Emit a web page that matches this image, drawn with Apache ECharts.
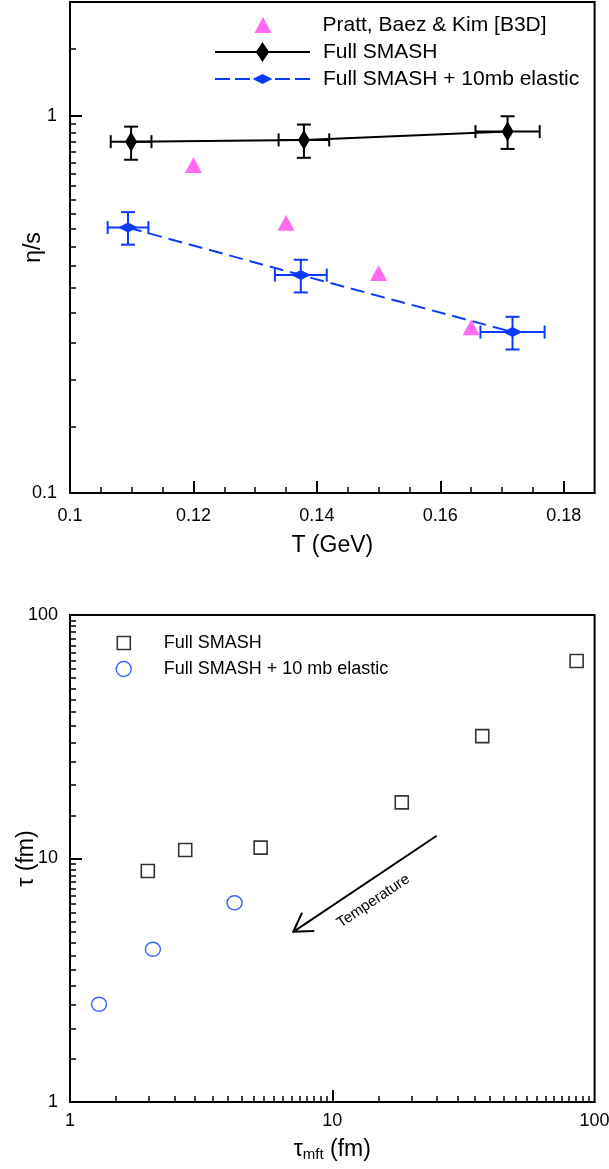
<!DOCTYPE html>
<html><head><meta charset="utf-8">
<script src="https://cdn.jsdelivr.net/npm/echarts@6/dist/echarts.min.js"></script>
<style>html,body{margin:0;padding:0;background:#fff}#c{width:609px;height:1169px}</style>
</head><body><div id="c"></div>
<script>
const FONT = '"Liberation Sans", Arial, Helvetica, sans-serif';
const BLUE = '#0b3bff';
const PINK = '#ff47ee';

// ---------- top panel data ----------
const prattName = 'Pratt, Baez & Kim [B3D]';
const prattT = [0.120, 0.135, 0.150, 0.165];
const prattEta = [0.74, 0.52, 0.383, 0.275];

const fullName = 'Full SMASH';
const fullT = [0.1099, 0.1379, 0.1709];
const fullEta = [0.853, 0.862, 0.907];
const fullEtaLo = [0.764, 0.773, 0.816];
const fullEtaHi = [0.935, 0.947, 0.996];
const fullTErr = [0.0033, 0.0041, 0.0052];

const elName = 'Full SMASH + 10mb elastic';
const elT = [0.1094, 0.1374, 0.1717];
const elEta = [0.505, 0.378, 0.267];
const elEtaLo = [0.455, 0.340, 0.240];
const elEtaHi = [0.555, 0.415, 0.293];
const elTErr = [0.0033, 0.0042, 0.0052];

const topXLabels = [0.1, 0.12, 0.14, 0.16, 0.18];
const topXMajor = [0.12, 0.14, 0.16, 0.18];
const topXMinor = [0.105, 0.11, 0.115, 0.125, 0.13, 0.135, 0.145, 0.15, 0.155, 0.165, 0.17, 0.175];
const topYLabels = [0.1, 1];
const topYMajor = [1];
const topYMinor = [0.15, 0.2, 0.25, 0.3, 0.35, 0.4, 0.45, 0.5, 0.55, 0.6, 0.65, 0.7, 0.75, 0.8, 0.85, 0.9, 0.95, 1.5];

// ---------- bottom panel data ----------
const botNames = ['Full SMASH', 'Full SMASH + 10 mb elastic'];
const tauMftFull = [1.98, 2.75, 5.33, 18.4, 37.3, 85.4];
const tauFull = [8.89, 10.84, 11.08, 17.0, 31.8, 64.7];
const tauMftEl = [1.29, 2.07, 4.24];
const tauEl = [2.52, 4.24, 6.58];

const botLabels = [1, 10, 100];
const botMajor = [10];
const botMinor = [1.5, 2, 2.5, 3, 3.5, 4, 4.5, 5, 5.5, 6, 6.5, 7, 7.5, 8, 8.5, 9, 9.5,
                  15, 20, 25, 30, 35, 40, 45, 50, 55, 60, 65, 70, 75, 80, 85, 90, 95];

const arrowFrom = [25, 12.4];
const arrowTo = [7.1, 5.0];
const arrowText = 'Temperature';

// ---------- helpers ----------
function errorBars(xIdx, yIdx, T, eta, lo, hi, dT, color) {
  return {
    type: 'custom', xAxisIndex: xIdx, yAxisIndex: yIdx, z: 3, silent: true,
    data: T.map((t, i) => [t, eta[i], lo[i], hi[i], t - dT[i], t + dT[i]]),
    encode: { x: [0, 4, 5], y: [1, 2, 3] },
    renderItem: function (params, api) {
      const lo = api.coord([api.value(0), api.value(2)]);
      const hi = api.coord([api.value(0), api.value(3)]);
      const l = api.coord([api.value(4), api.value(1)]);
      const r = api.coord([api.value(5), api.value(1)]);
      const cw = 7, ch = 6.5;
      const st = { stroke: color, lineWidth: 2, fill: null };
      const ln = (x1, y1, x2, y2) => ({ type: 'line', shape: { x1, y1, x2, y2 }, style: st });
      return { type: 'group', children: [
        ln(lo[0], lo[1], hi[0], hi[1]),
        ln(lo[0] - cw, lo[1], lo[0] + cw, lo[1]),
        ln(hi[0] - cw, hi[1], hi[0] + cw, hi[1]),
        ln(l[0], l[1], r[0], r[1]),
        ln(l[0], l[1] - ch, l[0], l[1] + ch),
        ln(r[0], r[1] - ch, r[0], r[1] + ch)
      ]};
    }
  };
}

const labelStyle = { fontSize: 18, color: '#000', fontFamily: FONT };
const axisLineStyle = { color: '#000', width: 2 };

function mainAxis(grid, type, min, max, labels, major, extra) {
  return Object.assign({
    gridIndex: grid, type: type, min: min, max: max,
    axisLine: { show: true, onZero: false, lineStyle: axisLineStyle },
    axisTick: { show: true, inside: true, length: 12, customValues: major, lineStyle: { color: '#000', width: 2 } },
    axisLabel: Object.assign({ customValues: labels }, labelStyle),
    splitLine: { show: false }, minorTick: { show: false },
    nameMoveOverlap: false
  }, type === 'log' ? { logBase: 10 } : {}, extra);
}
function minorAxis(grid, type, min, max, ticks, extra) {
  return Object.assign({
    gridIndex: grid, type: type, min: min, max: max,
    axisLine: { show: false },
    axisTick: { show: true, inside: true, length: 6, customValues: ticks, lineStyle: { color: '#000', width: 1.5 } },
    axisLabel: { show: false },
    splitLine: { show: false }
  }, type === 'log' ? { logBase: 10 } : {}, extra);
}

const nameStyle = { fontSize: 23, color: '#000', fontFamily: FONT };

const option = {
  animation: false,
  backgroundColor: '#fff',
  textStyle: { fontFamily: FONT },
  grid: [
    { left: 70, top: 2, width: 524.6, height: 491, show: true, borderColor: '#000', borderWidth: 2, containLabel: false, outerBoundsMode: 'none' },
    { left: 70, top: 615, width: 524.6, height: 487, show: true, borderColor: '#000', borderWidth: 2, containLabel: false, outerBoundsMode: 'none' }
  ],
  xAxis: [
    mainAxis(0, 'value', 0.1, 0.185, topXLabels, topXMajor, {
      position: 'bottom',
      axisLabel: Object.assign({ customValues: topXLabels, margin: 14, formatter: v => String(+(+v).toFixed(3)) }, labelStyle),
      name: 'T (GeV)', nameLocation: 'middle', nameGap: 41, nameTextStyle: nameStyle
    }),
    minorAxis(0, 'value', 0.1, 0.185, topXMinor, { position: 'bottom' }),
    mainAxis(1, 'log', 1, 100, botLabels, botMajor, {
      position: 'bottom',
      axisLabel: Object.assign({ customValues: botLabels, margin: 10 }, labelStyle),
      name: 'τ{sub|mft} (fm)', nameLocation: 'middle', nameGap: 35,
      nameTextStyle: Object.assign({}, nameStyle, { rich: { sub: { fontSize: 15, fontFamily: FONT, color: '#000', padding: [10, 0, 0, 0] } } })
    }),
    minorAxis(1, 'log', 1, 100, botMinor, { position: 'bottom' })
  ],
  yAxis: [
    mainAxis(0, 'log', 0.1, 2, topYLabels, topYMajor, {
      position: 'left',
      axisLabel: Object.assign({ customValues: topYLabels, margin: 13 }, labelStyle),
      name: 'η/s', nameLocation: 'middle', nameRotate: 90, nameGap: 25, nameTextStyle: nameStyle
    }),
    minorAxis(0, 'log', 0.1, 2, topYMinor, { position: 'left' }),
    mainAxis(1, 'log', 1, 100, botLabels, botMajor, {
      position: 'left',
      axisLabel: Object.assign({ customValues: botLabels, margin: 12 }, labelStyle),
      name: 'τ (fm)', nameLocation: 'middle', nameRotate: 90, nameGap: 32, nameTextStyle: nameStyle
    }),
    minorAxis(1, 'log', 1, 100, botMinor, { position: 'left' })
  ],
  legend: [
    { left: 254.5, top: 13, padding: 0, selectedMode: false, itemWidth: 17, itemHeight: 16,
      data: [{ name: prattName, icon: 'path://M8.5,0 L17,16 L0,16 Z' }],
      itemStyle: { color: PINK, borderWidth: 0 },
      textStyle: { fontSize: 21, lineHeight: 24, color: '#000', fontFamily: FONT, padding: [0, 0, 0, 46] } },
    { left: 215, top: 40, padding: 0, selectedMode: false, itemWidth: 95, itemHeight: 20,
      data: [{ name: fullName, icon: 'path://M0,9 L41.5,9 L47.5,0 L53.5,9 L95,9 L95,11 L53.5,11 L47.5,20 L41.5,11 L0,11 Z' }],
      itemStyle: { color: '#000', borderWidth: 0 },
      textStyle: { fontSize: 21, lineHeight: 24, color: '#000', fontFamily: FONT, padding: [0, 0, 0, 8] } },
    { left: 215, top: 67, padding: 0, selectedMode: false, itemWidth: 95, itemHeight: 10,
      data: [{ name: elName, icon: 'path://M0,4 L15,4 L15,6 L0,6 Z M20,4 L35,4 L35,6 L20,6 Z M37.5,5 L47.5,0 L57.5,5 L47.5,10 Z M60,4 L75,4 L75,6 L60,6 Z M80,4 L95,4 L95,6 L80,6 Z' }],
      itemStyle: { color: BLUE, borderWidth: 0 },
      textStyle: { fontSize: 21, lineHeight: 24, color: '#000', fontFamily: FONT, padding: [0, 0, 0, 8] } },
    { left: 116.5, top: 632, padding: 0, selectedMode: false, itemWidth: 13, itemHeight: 13,
      data: [{ name: 'tau:' + botNames[0], icon: 'rect' }],
      formatter: n => n.replace('tau:', ''),
      itemStyle: { color: 'rgba(0,0,0,0)', borderColor: '#000', borderWidth: 1.6 },
      textStyle: { fontSize: 18, lineHeight: 22, color: '#000', fontFamily: FONT, padding: [0, 0, 0, 28.5] } },
    { left: 115.5, top: 658, padding: 0, selectedMode: false, itemWidth: 15, itemHeight: 15,
      data: [{ name: 'tau:' + botNames[1], icon: 'circle' }],
      formatter: n => n.replace('tau:', ''),
      itemStyle: { color: 'rgba(0,0,0,0)', borderColor: BLUE, borderWidth: 1.4 },
      textStyle: { fontSize: 18, lineHeight: 22, color: '#000', fontFamily: FONT, padding: [0, 0, 0, 27.5] } }
  ],
  series: [
    errorBars(0, 0, fullT, fullEta, fullEtaLo, fullEtaHi, fullTErr, '#000'),
    errorBars(0, 0, elT, elEta, elEtaLo, elEtaHi, elTErr, BLUE),
    { name: fullName, type: 'line', xAxisIndex: 0, yAxisIndex: 0, z: 4,
      data: fullT.map((t, i) => [t, fullEta[i]]),
      symbol: 'diamond', symbolSize: [12, 20],
      lineStyle: { color: '#000', width: 2 }, itemStyle: { color: '#000', borderWidth: 0 } },
    { name: elName, type: 'line', xAxisIndex: 0, yAxisIndex: 0, z: 4,
      data: elT.map((t, i) => [t, elEta[i]]),
      symbol: 'diamond', symbolSize: [20, 10],
      lineStyle: { color: BLUE, width: 2, type: [14, 7] }, itemStyle: { color: BLUE, borderWidth: 0 } },
    { name: prattName, type: 'scatter', xAxisIndex: 0, yAxisIndex: 0, z: 5,
      data: prattT.map((t, i) => [t, prattEta[i]]),
      symbol: 'triangle', symbolSize: [17, 16], itemStyle: { color: PINK } },
    { name: 'tau:' + botNames[0], type: 'scatter', xAxisIndex: 2, yAxisIndex: 2,
      data: tauMftFull.map((x, i) => [x, tauFull[i]]),
      symbol: 'rect', symbolSize: 13,
      itemStyle: { color: 'rgba(0,0,0,0)', borderColor: '#000', borderWidth: 1.6 } },
    { name: 'tau:' + botNames[1], type: 'scatter', xAxisIndex: 2, yAxisIndex: 2,
      data: tauMftEl.map((x, i) => [x, tauEl[i]]),
      symbol: 'circle', symbolSize: [15, 14],
      itemStyle: { color: 'rgba(0,0,0,0)', borderColor: BLUE, borderWidth: 1.4 } },
    { type: 'custom', xAxisIndex: 2, yAxisIndex: 2, silent: true,
      data: [[arrowFrom[0], arrowFrom[1], arrowTo[0], arrowTo[1]]],
      encode: { x: [0, 2], y: [1, 3] },
      renderItem: function (params, api) {
        const p0 = api.coord([api.value(0), api.value(1)]);
        const p1 = api.coord([api.value(2), api.value(3)]);
        const dx = p1[0] - p0[0], dy = p1[1] - p0[1];
        const len = Math.hypot(dx, dy);
        const ux = dx / len, uy = dy / len;
        const back = Math.atan2(-uy, -ux);
        const wl = 21, wa = 0.55;
        const w1 = [p1[0] + wl * Math.cos(back + wa), p1[1] + wl * Math.sin(back + wa)];
        const w2 = [p1[0] + wl * Math.cos(back - wa), p1[1] + wl * Math.sin(back - wa)];
        const nx = -uy, ny = ux; // perpendicular
        const sgn = ny > 0 ? 1 : -1;
        const mx = (p0[0] + p1[0]) / 2 + sgn * 19 * nx + 2.6 * ux;
        const my = (p0[1] + p1[1]) / 2 + sgn * 19 * ny + 2.6 * uy;
        const st = { stroke: '#000', lineWidth: 2, fill: null };
        return { type: 'group', children: [
          { type: 'line', shape: { x1: p0[0], y1: p0[1], x2: p1[0], y2: p1[1] }, style: st },
          { type: 'polyline', shape: { points: [w1, p1, w2] }, style: st },
          { type: 'text', x: mx, y: my, rotation: Math.atan2(dy, -dx),
            style: { text: arrowText, fontSize: 15, fontFamily: FONT, fill: '#000', align: 'center', verticalAlign: 'middle' } }
        ]};
      }
    }
  ]
};

const chart = echarts.init(document.getElementById('c'), null, { renderer: 'canvas' });
chart.setOption(option);
</script>
</body></html>
